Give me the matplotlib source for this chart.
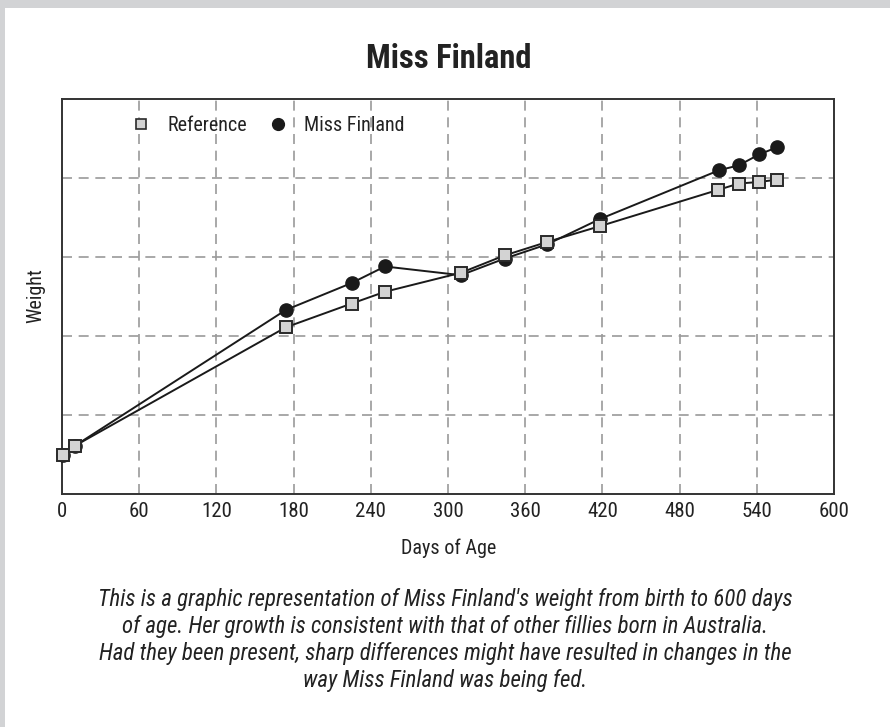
import matplotlib
matplotlib.use("Agg")
import matplotlib.pyplot as plt
from matplotlib.lines import Line2D
import matplotlib.font_manager as fm

entries = fm.fontManager.ttflist
names = {f.name for f in entries}
dejavu_cond = any(f.name == "DejaVu Sans" and "condensed" in str(f.stretch) for f in entries)
FONT = "DejaVu Sans"
STRETCH = "normal"
for cand in ["Liberation Sans Narrow", "Roboto Condensed", "Open Sans Condensed", "Noto Sans Condensed"]:
    if cand in names:
        FONT = cand
        break
else:
    if dejavu_cond:
        STRETCH = "condensed"
    elif "Roboto" in names:
        FONT = "Roboto"
plt.rcParams['font.family'] = [FONT, 'DejaVu Sans']
plt.rcParams['font.stretch'] = STRETCH

# ---- data ----
ref_days = [1, 10, 174, 225, 251, 310, 344, 377, 418, 510, 526, 542, 556]
ref_weight = [0.50, 0.61, 2.11, 2.41, 2.56, 2.80, 3.02, 3.19, 3.39, 3.85, 3.93, 3.95, 3.98]
mf_days = [1, 10, 174, 225, 251, 310, 344, 377, 418, 511, 526, 542, 556]
mf_weight = [0.50, 0.61, 2.33, 2.67, 2.88, 2.77, 2.98, 3.16, 3.48, 4.10, 4.16, 4.30, 4.39]
x_ticks = [0, 60, 120, 180, 240, 300, 360, 420, 480, 540, 600]
y_grid = [1, 2, 3, 4]
title = "Miss Finland"
caption = ("This is a graphic representation of Miss Finland's weight from birth to 600 days\n"
           "of age. Her growth is consistent with that of other fillies born in Australia.\n"
           "Had they been present, sharp differences might have resulted in changes in the\n"
           "way Miss Finland was being fed.")

W, H = 890, 727
fig = plt.figure(figsize=(W / 100, H / 100), dpi=100)
fig.patch.set_facecolor("white")
fig.patches.append(plt.Rectangle((0, 0), 5 / W, 1, transform=fig.transFigure,
                                 facecolor="#d2d3d5", edgecolor="none"))
fig.patches.append(plt.Rectangle((0, 1 - 7.5 / H), 1, 7.5 / H, transform=fig.transFigure,
                                 facecolor="#d2d3d5", edgecolor="none"))

ax = fig.add_axes([62 / W, 1 - 494 / H, (834 - 62) / W, (494 - 99) / H])
ax.set_xlim(0, 600)
ax.set_ylim(0, 5)
ax.set_xticks(x_ticks)
ax.set_yticks(y_grid)
ax.set_yticklabels([])
ax.tick_params(axis="both", length=0, labelsize=15, labelcolor="#222222", pad=6)
ax.tick_params(axis="y", pad=0)
ax.grid(True, color="#9a9a9a", linestyle=(0, (6, 4)), linewidth=1.2)
ax.set_axisbelow(True)
for s in ax.spines.values():
    s.set_color("#333333")
    s.set_linewidth(1.4)

ax.plot(mf_days, mf_weight, color="#1a1a1a", lw=1.4, marker="o", ms=9.5,
        markerfacecolor="#1a1a1a", markeredgecolor="#1a1a1a", zorder=3, clip_on=False)
ax.plot(ref_days, ref_weight, color="#1a1a1a", lw=1.4, marker="s", ms=8.5,
        markerfacecolor="#d3d3d3", markeredgecolor="#2a2a2a", markeredgewidth=1.4,
        zorder=4, clip_on=False)

handles = [Line2D([], [], linestyle="none", marker="s", ms=7, markerfacecolor="#d3d3d3",
                  markeredgecolor="#2a2a2a", markeredgewidth=1.2),
           Line2D([], [], linestyle="none", marker="o", ms=8.5, markerfacecolor="#1a1a1a",
                  markeredgecolor="#1a1a1a")]
leg = ax.legend(handles, ["Reference", "Miss Finland"], ncol=2, frameon=False,
                loc="center left", bbox_to_anchor=(0.0894, 0.934), fontsize=14.5,
                handlelength=1.0, handletextpad=0.8, columnspacing=1.05,
                borderpad=0, borderaxespad=0)
for t in leg.get_texts():
    t.set_color("#222222")

def ftext(x, y, s, **kw):
    fig.text(x / W, 1 - y / H, s, **kw)

ftext(449, 59, title, ha="center", va="center", fontsize=23.5, fontweight="bold", color="#222222")
ftext(449, 548, "Days of Age", ha="center", va="center", fontsize=14.5, color="#222222")
ftext(36, 296, "Weight", ha="center", va="center", rotation=90, fontsize=14.5, color="#222222")
ftext(445, 640, caption, ha="center", va="center", fontsize=16.5, style="italic",
      color="#222222", linespacing=1.225)

fig.savefig("out.png", dpi=100)
